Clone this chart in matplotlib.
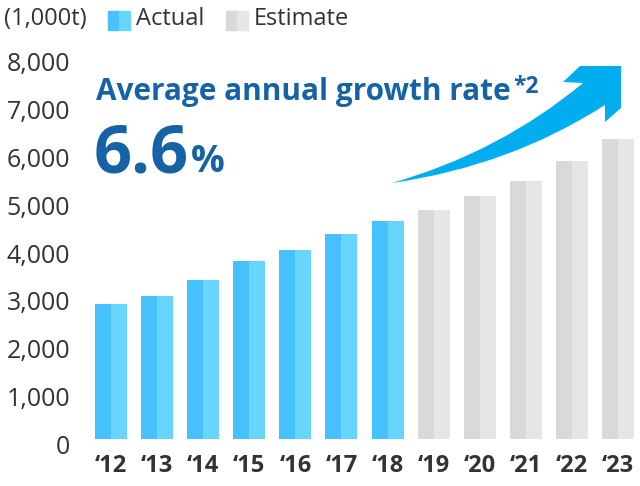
import matplotlib
matplotlib.use("Agg")
import matplotlib.pyplot as plt
from matplotlib.patches import Rectangle, PathPatch
from matplotlib.path import Path
from matplotlib.transforms import ScaledTranslation

plt.rcParams['font.family'] = ['Open Sans', 'DejaVu Sans']

# data (1,000t)
years = ["‘12", "‘13", "‘14", "‘15", "‘16", "‘17", "‘18",
         "‘19", "‘20", "‘21", "‘22", "‘23"]
values = [2810, 2990, 3330, 3710, 3940, 4290, 4550,
          4780, 5070, 5390, 5800, 6260]
is_estimate = [False] * 7 + [True] * 5

blue_dark, blue_light = "#47c1fb", "#68d5ff"
gray_dark, gray_light = "#d9d9d9", "#e6e6e6"
txt = "#333333"
navy = "#1563a6"
cyan = "#00aeef"

W, H = 640, 486
fig = plt.figure(figsize=(W / 100, H / 100), dpi=100)
ax = fig.add_axes([88 / W, (H - 439) / H, 553 / W, 383 / H])

x = list(range(len(years)))
half = 0.347
for xi, v, est in zip(x, values, is_estimate):
    c1, c2 = (gray_dark, gray_light) if est else (blue_dark, blue_light)
    ax.bar(xi - half / 2, v, width=half, color=c1, linewidth=0)
    ax.bar(xi + half / 2, v, width=half, color=c2, linewidth=0)

ax.set_xlim(-0.5, len(years) - 0.5)
ax.set_ylim(0, 8000)
ax.set_yticks(range(0, 8001, 1000))
ax.set_yticklabels([f"{t:,}" for t in range(0, 8001, 1000)])
ax.set_xticks(x)
ax.set_xticklabels(years)
for s in ax.spines.values():
    s.set_visible(False)
ax.tick_params(axis='y', length=0, pad=13, labelsize=18, labelcolor=txt)
ax.tick_params(axis='x', length=0, pad=11, labelsize=17, labelcolor=txt)
for lab in ax.get_xticklabels():
    lab.set_fontweight('bold')
for lab in ax.get_yticklabels():
    lab.set_transform(lab.get_transform() + ScaledTranslation(0, -4 / 72, fig.dpi_scale_trans))

# unit + legend
def fx(px):
    return px / W

def fy(py):
    return (H - py) / H

fig.text(fx(4), fy(19), "(1,000t)", fontsize=17, color=txt, va='center', ha='left')
for x0, (c1, c2), label in [(108, (blue_dark, blue_light), "Actual"),
                            (226, (gray_dark, gray_light), "Estimate")]:
    fig.patches.append(Rectangle((fx(x0), fy(30)), fx(11), 19 / H, color=c1,
                                 transform=fig.transFigure, figure=fig))
    fig.patches.append(Rectangle((fx(x0 + 11), fy(30)), fx(11), 19 / H, color=c2,
                                 transform=fig.transFigure, figure=fig))
    fig.text(fx(x0 + 28), fy(19), label, fontsize=17, color=txt, va='center', ha='left')

# growth arrow
pts = [
    (392, 183), (500, 152), (583, 83),          # upper edge (quadratic)
    (563, 82), (580, 66), (621, 66), (621, 108), (605, 122), (605, 105),
    (510, 166), (392, 183),                      # lower edge back to tail
]
codes = [Path.MOVETO, Path.CURVE3, Path.CURVE3,
         Path.LINETO, Path.LINETO, Path.LINETO, Path.LINETO, Path.LINETO, Path.LINETO,
         Path.CURVE3, Path.CURVE3]
arrow = Path([(fx(a), fy(b)) for a, b in pts], codes)
fig.patches.append(PathPatch(arrow, facecolor=cyan, edgecolor='none',
                             transform=fig.transFigure, figure=fig))

# growth rate text
fig.text(fx(96), fy(100), "Average annual growth rate", fontsize=21.4, fontweight='bold',
         color=navy, ha='left', va='baseline')
fig.text(fx(513), fy(93), "*2", fontsize=16.5, fontweight='bold', color=navy,
         ha='left', va='baseline')
fig.text(fx(94), fy(172), "6.6", fontsize=48, fontweight='bold', color=navy,
         ha='left', va='baseline')
fig.text(fx(191), fy(172), "%", fontsize=27, fontweight='bold', color=navy,
         ha='left', va='baseline')

fig.savefig("out.png", dpi=100)
